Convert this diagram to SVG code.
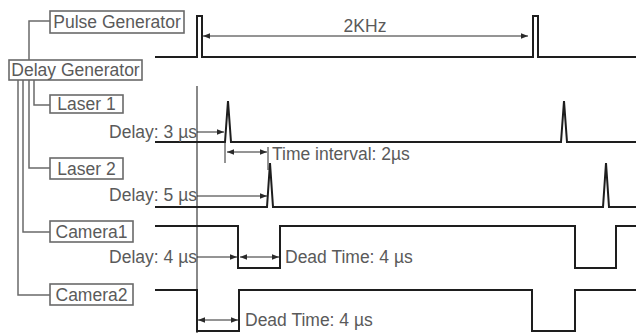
<svg xmlns="http://www.w3.org/2000/svg" width="636" height="334" viewBox="0 0 636 334">
<style>
.box{fill:#fff;stroke:#6a6a6a;stroke-width:1.6}
.lbl{font-family:"Liberation Sans",Arial,sans-serif;font-size:17.5px;fill:#5a5a5a}
.wave{fill:none;stroke:#1e1e1e;stroke-width:2}
.link{fill:none;stroke:#6a6a6a;stroke-width:1.5}
.arr{fill:none;stroke:#2a2a2a;stroke-width:1}
.ref{fill:none;stroke:#3a3a3a;stroke-width:1.2}
</style>
<defs>
<marker id="ah" viewBox="0 0 10 10" refX="10" refY="5" markerWidth="8" markerHeight="7" markerUnits="userSpaceOnUse" orient="auto-start-reverse">
<path d="M0,1 L10,5 L0,9 Z" fill="#2a2a2a"/>
</marker>
</defs>
<rect width="636" height="334" fill="#fff"/>
<g id="connectors">
<path class="link" d="M29,61 V21 H50"/>
<path class="link" d="M34,80 V105 H50"/>
<path class="link" d="M29,80 V168 H50"/>
<path class="link" d="M23,80 V232 H50"/>
<path class="link" d="M18,80 V295 H50"/>
</g>
<g id="pulse-generator">
<rect class="box" x="50" y="11" width="134" height="22"/>
<text class="lbl" x="117" y="28" text-anchor="middle">Pulse Generator</text>
</g>
<g id="delay-generator">
<rect class="box" x="9" y="60" width="133" height="20"/>
<text class="lbl" x="75.5" y="76" text-anchor="middle">Delay Generator</text>
</g>
<g id="laser1">
<rect class="box" x="50" y="95" width="73" height="18"/>
<text class="lbl" x="86.5" y="110" text-anchor="middle">Laser 1</text>
</g>
<g id="laser2">
<rect class="box" x="50" y="158" width="73" height="21"/>
<text class="lbl" x="86.5" y="175" text-anchor="middle">Laser 2</text>
</g>
<g id="camera1">
<rect class="box" x="50" y="221" width="83" height="21"/>
<text class="lbl" x="91.5" y="238" text-anchor="middle">Camera1</text>
</g>
<g id="camera2">
<rect class="box" x="50" y="284" width="83" height="21"/>
<text class="lbl" x="91.5" y="301" text-anchor="middle">Camera2</text>
</g>
<g id="waveforms">
<line class="ref" x1="197" y1="86" x2="197" y2="333"/>
<path class="wave" d="M155,57 H197 V16 H202 V57 H533 V16 H538 V57 H636"/>
<path class="wave" d="M155,142 H225 L228,101 L231,142 H561 L564,101 L567,142 H636"/>
<path class="wave" d="M155,207 H267 L270,163 L273,207 H603 L606,163 L609,207 H636"/>
<path class="wave" d="M155,226 H238 V268 H280 V226 H575 V268 H616 V226 H636"/>
<path class="wave" d="M155,290 H197 V331 H239 V290 H532 V331 H575 V290 H636"/>
</g>
<g id="annotations">
<line class="arr" x1="203" y1="36" x2="528" y2="36" marker-start="url(#ah)" marker-end="url(#ah)"/>
<text class="lbl" x="365" y="32" text-anchor="middle">2KHz</text>
<text class="lbl" x="197" y="138" text-anchor="end">Delay: 3 µs</text>
<line class="arr" x1="197" y1="132" x2="224" y2="132" marker-end="url(#ah)"/>
<line class="arr" x1="225" y1="142" x2="225" y2="163"/>
<line class="arr" x1="268" y1="147" x2="268" y2="170"/>
<line class="arr" x1="227" y1="152" x2="267" y2="152" marker-start="url(#ah)" marker-end="url(#ah)"/>
<text class="lbl" x="272" y="160">Time interval: 2µs</text>
<text class="lbl" x="197" y="201" text-anchor="end">Delay: 5 µs</text>
<line class="arr" x1="197" y1="196" x2="267" y2="196" marker-end="url(#ah)"/>
<text class="lbl" x="197" y="263" text-anchor="end">Delay: 4 µs</text>
<line class="arr" x1="197" y1="257" x2="237" y2="257" marker-end="url(#ah)"/>
<line class="arr" x1="240" y1="257" x2="279" y2="257" marker-start="url(#ah)" marker-end="url(#ah)"/>
<text class="lbl" x="285" y="263">Dead Time: 4 µs</text>
<line class="arr" x1="198" y1="320" x2="238" y2="320" marker-start="url(#ah)" marker-end="url(#ah)"/>
<text class="lbl" x="245" y="326">Dead Time: 4 µs</text>
</g>
</svg>
